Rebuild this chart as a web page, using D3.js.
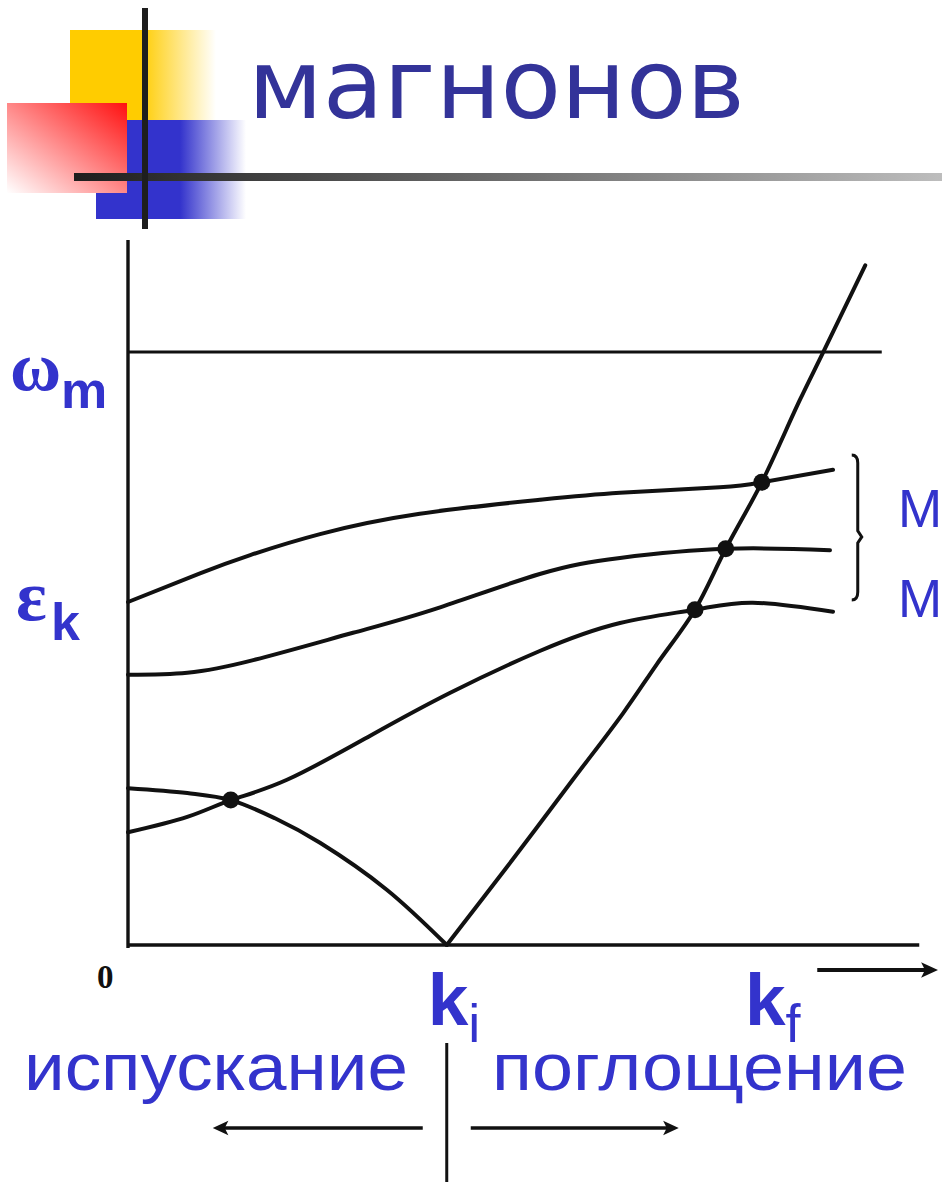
<!DOCTYPE html>
<html>
<head>
<meta charset="utf-8">
<script src="https://cdn.jsdelivr.net/npm/d3@7"></script>
<style>
  html, body { margin: 0; padding: 0; background: #fff; }
  svg { display: block; }
</style>
</head>
<body>
<svg id="slide" width="942" height="1182"></svg>
<script>
// --- data (k along x, energy along y, arbitrary units) ---
const magnonTopK = [0, 0.96, 1.63, 2.56, 3.89, 5.49, 6.56, 7.89, 8.45, 9.40]
const magnonTopE = [4.90, 5.31, 5.57, 5.87, 6.16, 6.36, 6.46, 6.54, 6.61, 6.79]

const magnonMidK = [0, 0.79, 1.67, 3.00, 4.12, 5.49, 6.56, 7.97, 9.36]
const magnonMidE = [3.86, 3.89, 4.07, 4.46, 4.81, 5.30, 5.53, 5.66, 5.64]

const magnonLowK = [0, 0.79, 1.37, 2.12, 3.23, 4.29, 5.49, 6.56, 7.56, 8.33, 9.40]
const magnonLowE = [1.61, 1.83, 2.07, 2.36, 2.99, 3.60, 4.20, 4.60, 4.79, 4.89, 4.76]

const fallingK = [0, 0.79, 1.37, 1.96, 2.56, 3.45, 4.25]
const fallingE = [2.24, 2.17, 2.07, 1.81, 1.46, 0.79, 0]

const risingK = [4.25, 5.05, 5.93, 6.60, 7.05, 7.56, 7.97, 8.45, 8.96, 9.27, 9.83]
const risingE = [0, 1.11, 2.36, 3.31, 4.01, 4.79, 5.66, 6.61, 7.79, 8.47, 9.71]

const crossK = [1.37, 7.56, 7.97, 8.45]
const crossE = [2.07, 4.79, 5.66, 6.61]

const omegaM = 8.47
const omegaMEnd = 10.05
const axisEndK = 10.55
const axisTopE = 10.07
const kInitial = 4.25
const braceK = 9.73
const braceE = [7.0, 5.83, 4.93] // top, middle, bottom

const blue = '#3333cc'
const ink = '#111'

const svg = d3.select('#slide')
const defs = svg.append('defs')

// --- logo block ---
function hGrad (id, color, solidUntil) {
  const g = defs.append('linearGradient').attr('id', id)
    .attr('x1', 0).attr('y1', 0).attr('x2', 1).attr('y2', 0)
  g.append('stop').attr('offset', 0).attr('stop-color', color)
  g.append('stop').attr('offset', solidUntil).attr('stop-color', color)
  g.append('stop').attr('offset', 1).attr('stop-color', '#fff')
}
hGrad('gYellow', '#ffcc00', 0.48)
hGrad('gBlue', '#3333cc', 0.56)

const red = defs.append('linearGradient').attr('id', 'gRed')
  .attr('x1', 1).attr('y1', 0).attr('x2', 0).attr('y2', 1)
red.append('stop').attr('offset', 0).attr('stop-color', '#ff1010')
red.append('stop').attr('offset', 1).attr('stop-color', '#fff')

const bar = defs.append('linearGradient').attr('id', 'gBar')
  .attr('x1', 0).attr('y1', 0).attr('x2', 1).attr('y2', 0)
bar.append('stop').attr('offset', 0).attr('stop-color', '#1e1e1e')
bar.append('stop').attr('offset', 1).attr('stop-color', '#bdbdbd')

svg.append('rect').attr('x', 70).attr('y', 30).attr('width', 146).attr('height', 90).attr('fill', 'url(#gYellow)')
svg.append('rect').attr('x', 96).attr('y', 120).attr('width', 150).attr('height', 99).attr('fill', 'url(#gBlue)')
svg.append('rect').attr('x', 7).attr('y', 103).attr('width', 120).attr('height', 90).attr('fill', 'url(#gRed)')
svg.append('rect').attr('x', 74).attr('y', 173).attr('width', 868).attr('height', 8).attr('fill', 'url(#gBar)')
svg.append('rect').attr('x', 142).attr('y', 8).attr('width', 6).attr('height', 221).attr('fill', '#1e1e1e')

svg.append('text')
  .attr('x', 248).attr('y', 118)
  .attr('font-family', 'DejaVu Sans, Verdana, sans-serif')
  .attr('font-size', 96)
  .attr('textLength', 497).attr('lengthAdjust', 'spacingAndGlyphs')
  .attr('fill', '#333399')
  .text('магнонов')

// --- chart ---
const x = d3.scaleLinear().domain([0, 10]).range([128, 878])
const y = d3.scaleLinear().domain([0, 10]).range([945, 245])

const zip = (ks, es) => ks.map((k, i) => [k, es[i]])
const smooth = d3.line().x(d => x(d[0])).y(d => y(d[1])).curve(d3.curveNatural)
const through = d3.line().x(d => x(d[0])).y(d => y(d[1])).curve(d3.curveCatmullRom.alpha(0.5))

const plot = svg.append('g')

// axes
plot.append('line')
  .attr('x1', x(0)).attr('x2', x(0)).attr('y1', y(axisTopE)).attr('y2', y(0) + 3)
  .attr('stroke', ink).attr('stroke-width', 3.4)
plot.append('line')
  .attr('x1', x(0)).attr('x2', x(axisEndK)).attr('y1', y(0)).attr('y2', y(0))
  .attr('stroke', ink).attr('stroke-width', 3.4)
plot.append('line')
  .attr('x1', x(0)).attr('x2', x(omegaMEnd)).attr('y1', y(omegaM)).attr('y2', y(omegaM))
  .attr('stroke', ink).attr('stroke-width', 3)

const curves = [
  { pts: zip(magnonTopK, magnonTopE), gen: smooth },
  { pts: zip(magnonMidK, magnonMidE), gen: smooth },
  { pts: zip(magnonLowK, magnonLowE), gen: smooth },
  { pts: zip(fallingK, fallingE), gen: through },
  { pts: zip(risingK, risingE), gen: through }
]
plot.selectAll('path.curve').data(curves).join('path')
  .attr('class', 'curve')
  .attr('d', d => d.gen(d.pts))
  .attr('fill', 'none')
  .attr('stroke', ink)
  .attr('stroke-width', 4)
  .attr('stroke-linejoin', 'round')
  .attr('stroke-linecap', 'round')

plot.selectAll('circle.cross').data(zip(crossK, crossE)).join('circle')
  .attr('class', 'cross')
  .attr('cx', d => x(d[0])).attr('cy', d => y(d[1]))
  .attr('r', 8.5).attr('fill', ink)

// right brace
const bx = x(braceK)
const [bt, bm, bb] = braceE.map(y)
plot.append('path')
  .attr('d', `M${bx - 6},${bt} Q${bx},${bt} ${bx},${bt + 8} L${bx},${bm - 6} L${bx + 4},${bm} L${bx},${bm + 6} L${bx},${bb - 8} Q${bx},${bb} ${bx - 6},${bb}`)
  .attr('fill', 'none').attr('stroke', ink).attr('stroke-width', 3)

// k arrow under axis
const arrow = (x1, x2, yy, w, head) => {
  const dir = Math.sign(x2 - x1)
  plot.append('line').attr('x1', x1).attr('x2', x2 - dir * head * 0.6).attr('y1', yy).attr('y2', yy)
    .attr('stroke', ink).attr('stroke-width', w)
  plot.append('path')
    .attr('d', `M${x2},${yy} L${x2 - dir * head * 1.3},${yy - head * 0.6} L${x2 - dir * head},${yy} L${x2 - dir * head * 1.3},${yy + head * 0.6} Z`)
    .attr('fill', ink)
}
arrow(x(9.19), x(10.80), 970, 4, 13)

plot.append('text')
  .attr('x', 97).attr('y', 988)
  .attr('font-family', 'Liberation Serif, Times New Roman, serif')
  .attr('font-weight', 'bold').attr('font-size', 33)
  .attr('fill', ink).text('0')

// --- labels ---
const lab = svg.append('g').attr('fill', blue)

const omega = lab.append('text').attr('x', 10).attr('y', 390)
omega.append('tspan')
  .attr('font-family', 'Liberation Serif, serif').attr('font-weight', 'bold').attr('font-size', 70)
  .text('ω')
omega.append('tspan').attr('x', 61).attr('y', 408)
  .attr('font-family', 'Liberation Sans, Arial, sans-serif').attr('font-weight', 'bold').attr('font-size', 52)
  .text('m')

const eps = lab.append('text').attr('x', 16).attr('y', 620)
eps.append('tspan')
  .attr('font-family', 'Liberation Serif, serif').attr('font-weight', 'bold').attr('font-size', 72)
  .text('ε')
eps.append('tspan').attr('x', 51).attr('y', 640)
  .attr('font-family', 'Liberation Sans, Arial, sans-serif').attr('font-weight', 'bold').attr('font-size', 52)
  .text('k')

lab.selectAll('text.m').data([527, 617]).join('text')
  .attr('class', 'm')
  .attr('x', 898).attr('y', d => d)
  .attr('font-family', 'Liberation Sans, Arial, sans-serif').attr('font-size', 53)
  .text('М')

const kLabel = (cx, sub) => {
  const t = lab.append('text').attr('x', cx).attr('y', 1025)
    .attr('font-family', 'Liberation Sans, Arial, sans-serif')
  t.append('tspan').attr('font-weight', 'bold').attr('font-size', 73).text('k')
  t.append('tspan').attr('dy', 17).attr('font-size', 54).text(sub)
}
kLabel(x(kInitial) - 19, 'i')
kLabel(745, 'f')

lab.append('text').attr('x', 24).attr('y', 1090)
  .attr('font-family', 'Liberation Sans, Arial, sans-serif').attr('font-size', 67)
  .attr('textLength', 384).attr('lengthAdjust', 'spacingAndGlyphs')
  .text('испускание')
lab.append('text').attr('x', 492).attr('y', 1090)
  .attr('font-family', 'Liberation Sans, Arial, sans-serif').attr('font-size', 67)
  .attr('textLength', 415).attr('lengthAdjust', 'spacingAndGlyphs')
  .text('поглощение')

// divider and process arrows below k_i
plot.append('line')
  .attr('x1', x(kInitial)).attr('x2', x(kInitial)).attr('y1', 1043).attr('y2', 1182)
  .attr('stroke', ink).attr('stroke-width', 3)
arrow(x(kInitial) - 24, x(kInitial) - 234, 1128, 3.4, 12)
arrow(x(kInitial) + 24, x(kInitial) + 232, 1128, 3.4, 12)
</script>
</body>
</html>
